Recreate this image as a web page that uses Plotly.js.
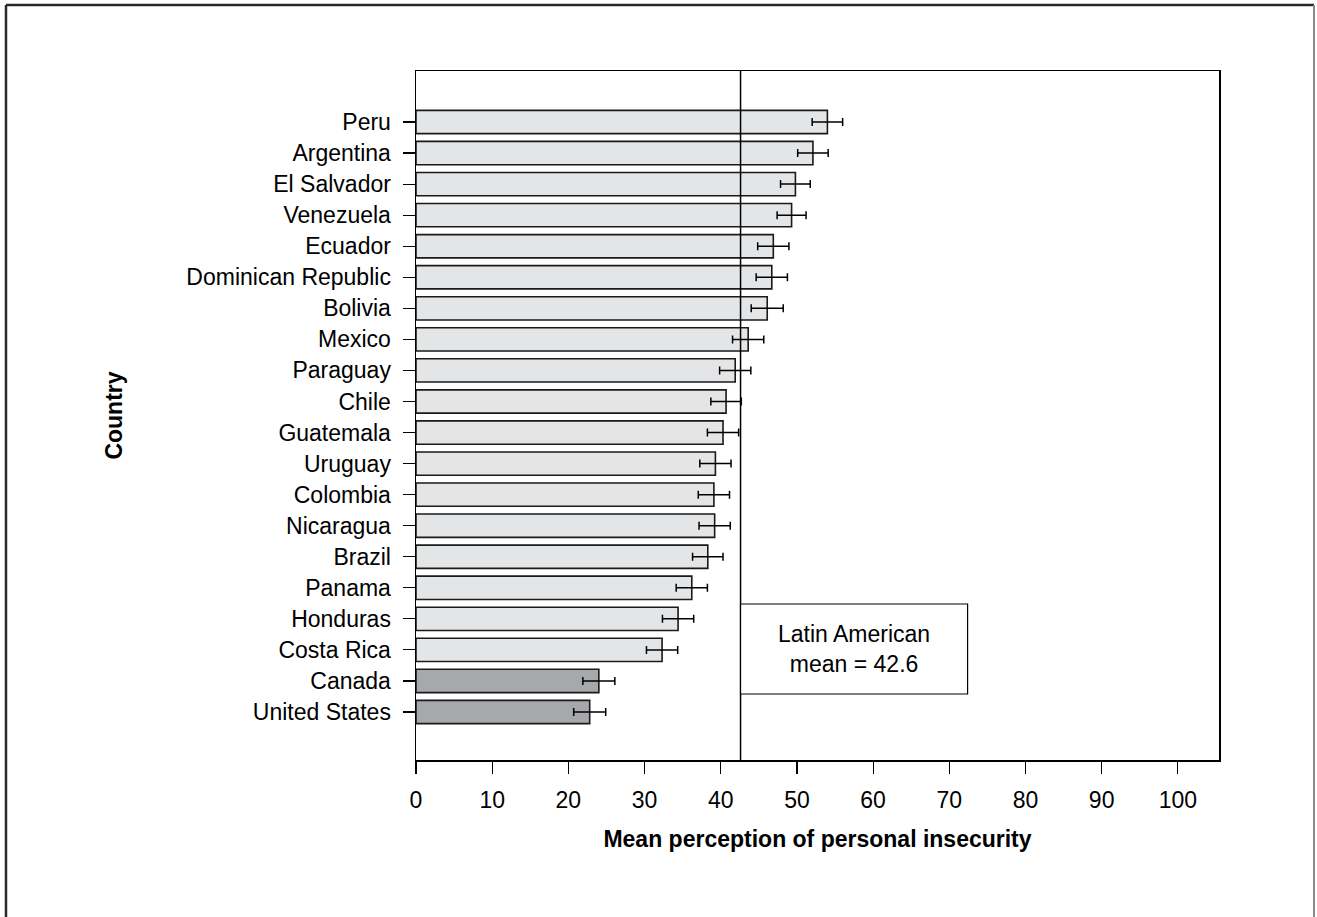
<!DOCTYPE html>
<html>
<head>
<meta charset="utf-8">
<script src="https://cdn.plot.ly/plotly-3.0.1.min.js"></script>
<style>
  html, body { margin: 0; padding: 0; background: #ffffff; overflow: hidden; }
  #chart { width: 1317px; height: 917px; }
</style>
</head>
<body>
<div id="chart"></div>
<script>
// Countries, top to bottom
const countries = [
  'Peru', 'Argentina', 'El Salvador', 'Venezuela', 'Ecuador',
  'Dominican Republic', 'Bolivia', 'Mexico', 'Paraguay', 'Chile',
  'Guatemala', 'Uruguay', 'Colombia', 'Nicaragua', 'Brazil',
  'Panama', 'Honduras', 'Costa Rica', 'Canada', 'United States'
];

// Mean perception of personal insecurity
const meanInsecurity = [
  54.0, 52.1, 49.8, 49.3, 46.9,
  46.7, 46.1, 43.6, 41.9, 40.7,
  40.3, 39.3, 39.1, 39.2, 38.3,
  36.2, 34.4, 32.3, 24.0, 22.8
];

// Half-width of the confidence interval
const ciHalfWidth = [
  2.0, 2.0, 1.95, 1.9, 2.05,
  2.05, 2.1, 2.05, 2.05, 2.0,
  2.05, 2.05, 2.05, 2.05, 2.0,
  2.05, 2.05, 2.05, 2.1, 2.1
];

// Region of each country
const region = [
  'Latin America', 'Latin America', 'Latin America', 'Latin America', 'Latin America',
  'Latin America', 'Latin America', 'Latin America', 'Latin America', 'Latin America',
  'Latin America', 'Latin America', 'Latin America', 'Latin America', 'Latin America',
  'Latin America', 'Latin America', 'Latin America', 'North America', 'North America'
];

const latinAmericanMean = 42.6;
const xTicks = [0, 10, 20, 30, 40, 50, 60, 70, 80, 90, 100];

const FONT = 'Liberation Sans, Arial, Helvetica, sans-serif';
const FS = 23;
const regionColor = { 'Latin America': '#e4e5e7', 'North America': '#a7a8ac' };

const trace = {
  type: 'bar',
  orientation: 'h',
  y: countries,
  x: meanInsecurity,
  marker: {
    color: region.map(r => regionColor[r]),
    line: { color: '#1a1a1a', width: 1.6 }
  },
  error_x: {
    type: 'data',
    array: ciHalfWidth,
    visible: true,
    color: '#000000',
    thickness: 1.5,
    width: 4
  },
  hoverinfo: 'x+y',
  showlegend: false
};

// Outer frame edges (open at the bottom)
const frameLeft = -0.5106, frameRight = 1.1183, frameTop = 1.0958, frameBottom = -0.5;
const frameLine = { color: '#2a2a2a', width: 2.5 };

const shapes = [
  // Latin American mean
  {
    type: 'line', xref: 'x', yref: 'paper',
    x0: latinAmericanMean, x1: latinAmericanMean, y0: 0, y1: 1,
    line: { color: '#000000', width: 1.5 }, layer: 'above'
  },
  // label box
  {
    type: 'rect', xref: 'x', yref: 'paper',
    x0: latinAmericanMean, x1: 72.4, y0: 0.0958, y1: 0.2264,
    fillcolor: '#ffffff', line: { color: '#000000', width: 1.2 }, layer: 'above'
  },
  // frame
  { type: 'line', xref: 'paper', yref: 'paper', x0: frameLeft, x1: frameRight, y0: frameTop, y1: frameTop, line: frameLine },
  { type: 'line', xref: 'paper', yref: 'paper', x0: frameLeft, x1: frameLeft, y0: frameBottom, y1: frameTop, line: frameLine },
  { type: 'line', xref: 'paper', yref: 'paper', x0: frameRight, x1: frameRight, y0: frameBottom, y1: frameTop, line: { color: '#8a8a8a', width: 2 } }
];

const annotations = [
  {
    xref: 'x', yref: 'paper',
    x: (latinAmericanMean + 72.4) / 2, y: 0.161,
    xanchor: 'center', yanchor: 'middle',
    text: 'Latin American<br>mean = ' + latinAmericanMean.toFixed(1),
    showarrow: false,
    font: { family: FONT, size: FS, color: '#000000' },
    align: 'center'
  }
];

const layout = {
  width: 1317,
  height: 917,
  margin: { l: 416, r: 98, t: 71, b: 157, pad: 0 },
  paper_bgcolor: '#ffffff',
  plot_bgcolor: '#ffffff',
  font: { family: FONT, size: FS, color: '#000000' },
  bargap: 0.25,
  xaxis: {
    range: [0, 105.4],
    tickmode: 'array',
    tickvals: xTicks,
    ticktext: xTicks.map(String),
    ticks: 'outside',
    ticklen: 12,
    tickwidth: 1.2,
    tickcolor: '#000000',
    ticklabelstandoff: 7,
    showgrid: false,
    zeroline: false,
    showline: true,
    mirror: true,
    linecolor: '#000000',
    linewidth: 1.5,
    tickfont: { family: FONT, size: FS, color: '#000000' },
    title: {
      text: '<b>Mean perception of personal insecurity</b>',
      font: { family: FONT, size: FS, color: '#000000' },
      standoff: 19
    }
  },
  yaxis: {
    type: 'category',
    range: [20.546, -1.643],
    ticks: 'outside',
    ticklen: 12,
    tickwidth: 1.2,
    tickcolor: '#000000',
    ticklabelstandoff: 7,
    showgrid: false,
    zeroline: false,
    showline: true,
    mirror: true,
    linecolor: '#000000',
    linewidth: 1.5,
    tickfont: { family: FONT, size: FS, color: '#000000' },
    title: {
      text: '<b>Country</b>',
      font: { family: FONT, size: FS, color: '#000000' },
      standoff: 57
    }
  },
  shapes: shapes,
  annotations: annotations
};

Plotly.newPlot('chart', [trace], layout, { displayModeBar: false, staticPlot: true });
</script>
</body>
</html>
